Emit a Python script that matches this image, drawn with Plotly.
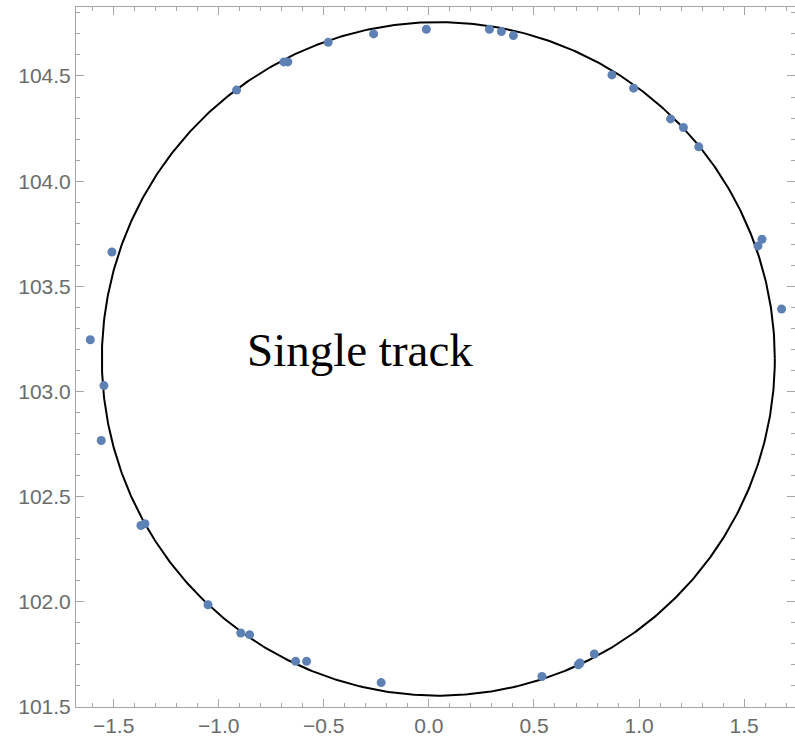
import numpy as np
import plotly.graph_objects as go

# Measured hit positions of one track
hit_x = [-1.508, -1.611, -1.546, -1.559, -1.370, -1.351, -1.051, -0.895, -0.853,
         -0.634, -0.582, -0.227, 0.538, 0.711, 0.719, 0.787,
         -0.915, -0.690, -0.671, -0.479, -0.263, -0.012, 0.288, 0.345, 0.402,
         0.871, 0.974, 1.150, 1.211, 1.284, 1.566, 1.585, 1.678]
hit_y = [103.663, 103.246, 103.028, 102.767, 102.363, 102.371, 101.986, 101.852, 101.844,
         101.717, 101.717, 101.616, 101.645, 101.701, 101.709, 101.752,
         104.433, 104.567, 104.567, 104.660, 104.700, 104.722, 104.722, 104.711, 104.692,
         104.505, 104.442, 104.296, 104.255, 104.163, 103.692, 103.724, 103.392]

# Fitted circle
circle_cx = 0.045
circle_cy = 103.155
circle_r = 1.601

x_ticks = [-1.5, -1.0, -0.5, 0.0, 0.5, 1.0, 1.5]
y_ticks = [101.5, 102.0, 102.5, 103.0, 103.5, 104.0, 104.5]

theta = np.linspace(0, 2 * np.pi, 721)
fit_x = circle_cx + circle_r * np.cos(theta)
fit_y = circle_cy + circle_r * np.sin(theta)

fig = go.Figure()
fig.add_trace(go.Scatter(
    x=fit_x, y=fit_y, mode="lines",
    line=dict(color="black", width=2),
    hoverinfo="skip", showlegend=False,
))
fig.add_trace(go.Scatter(
    x=hit_x, y=hit_y, mode="markers",
    marker=dict(color="#5E81B5", size=9, line=dict(width=0)),
    showlegend=False,
))

fig.add_annotation(
    x=-0.330, y=103.198, xref="x", yref="y",
    text="Single track", showarrow=False,
    font=dict(family="Liberation Serif, Times New Roman, serif", size=47, color="black"),
    xanchor="center", yanchor="middle",
)

axis_common = dict(
    showgrid=False, zeroline=False,
    showline=True, linecolor="#a6a6a6", linewidth=1, mirror="ticks",
    ticks="inside", ticklen=8, tickwidth=1, tickcolor="#a6a6a6",
    tickfont=dict(family="Liberation Sans, Arial, sans-serif", size=21, color="#6b6b6b"),
    minor=dict(ticks="inside", ticklen=4, tickwidth=1, tickcolor="#a6a6a6", dtick=0.1, showgrid=False),
)

fig.update_xaxes(
    range=[-1.679, 1.742], tickvals=x_ticks,
    ticktext=[f"{v:.1f}".replace("-", "\u2212") for v in x_ticks],
    **axis_common,
)
fig.update_yaxes(
    range=[101.5, 104.828], tickvals=y_ticks,
    ticktext=[f"{v:.1f}" for v in y_ticks],
    **axis_common,
)

fig.update_layout(
    width=795, height=741,
    margin=dict(l=76, r=0, t=7, b=34),
    plot_bgcolor="white", paper_bgcolor="white",
)

fig.write_html("out.html")
